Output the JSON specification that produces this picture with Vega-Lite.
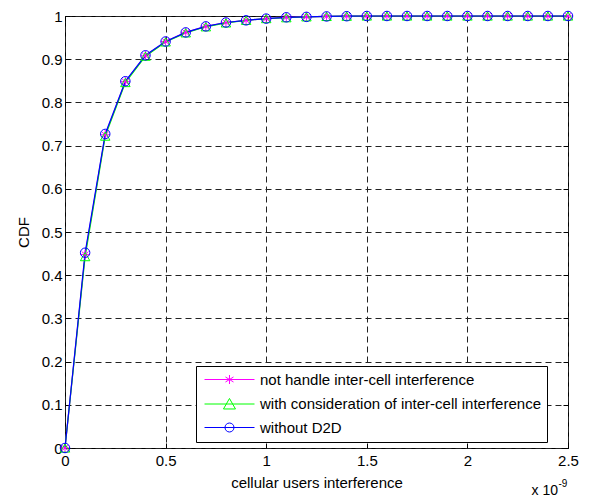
{
  "$schema": "https://vega.github.io/schema/vega-lite/v6.json",
  "width": 503,
  "height": 432,
  "autosize": {"type": "none"},
  "padding": {"left": 65, "top": 16, "right": 22, "bottom": 49},
  "background": "white",
  "config": {
    "view": {"stroke": "black", "strokeWidth": 1},
    "axis": {
      "labelFont": "Liberation Sans",
      "labelFontSize": 15,
      "labelColor": "#000",
      "labelFlush": false,
      "titleFont": "Liberation Sans",
      "titleFontSize": 15,
      "titleFontWeight": "normal",
      "titleColor": "#000",
      "domainColor": "#000",
      "tickColor": "#000",
      "gridColor": "#222",
      "gridDash": [6, 4],
      "gridOpacity": 1
    }
  },
  "data": {
    "values": [
      {"x": 0, "cdf": 0, "series": "not handle inter-cell interference"},
      {"x": 0.1, "cdf": 0.448, "series": "not handle inter-cell interference"},
      {"x": 0.2, "cdf": 0.725, "series": "not handle inter-cell interference"},
      {"x": 0.3, "cdf": 0.848, "series": "not handle inter-cell interference"},
      {"x": 0.4, "cdf": 0.908, "series": "not handle inter-cell interference"},
      {"x": 0.5, "cdf": 0.941, "series": "not handle inter-cell interference"},
      {"x": 0.6, "cdf": 0.962, "series": "not handle inter-cell interference"},
      {"x": 0.7, "cdf": 0.976, "series": "not handle inter-cell interference"},
      {"x": 0.8, "cdf": 0.985, "series": "not handle inter-cell interference"},
      {"x": 0.9, "cdf": 0.99, "series": "not handle inter-cell interference"},
      {"x": 1.0, "cdf": 0.994, "series": "not handle inter-cell interference"},
      {"x": 1.1, "cdf": 0.997, "series": "not handle inter-cell interference"},
      {"x": 1.2, "cdf": 0.998, "series": "not handle inter-cell interference"},
      {"x": 1.3, "cdf": 0.999, "series": "not handle inter-cell interference"},
      {"x": 1.4, "cdf": 0.9995, "series": "not handle inter-cell interference"},
      {"x": 1.5, "cdf": 1, "series": "not handle inter-cell interference"},
      {"x": 1.6, "cdf": 1, "series": "not handle inter-cell interference"},
      {"x": 1.7, "cdf": 1, "series": "not handle inter-cell interference"},
      {"x": 1.8, "cdf": 1, "series": "not handle inter-cell interference"},
      {"x": 1.9, "cdf": 1, "series": "not handle inter-cell interference"},
      {"x": 2.0, "cdf": 1, "series": "not handle inter-cell interference"},
      {"x": 2.1, "cdf": 1, "series": "not handle inter-cell interference"},
      {"x": 2.2, "cdf": 1, "series": "not handle inter-cell interference"},
      {"x": 2.3, "cdf": 1, "series": "not handle inter-cell interference"},
      {"x": 2.4, "cdf": 1, "series": "not handle inter-cell interference"},
      {"x": 2.5, "cdf": 1, "series": "not handle inter-cell interference"},
      {"x": 0, "cdf": 0, "series": "with consideration of inter-cell interference"},
      {"x": 0.1, "cdf": 0.443, "series": "with consideration of inter-cell interference"},
      {"x": 0.2, "cdf": 0.722, "series": "with consideration of inter-cell interference"},
      {"x": 0.3, "cdf": 0.846, "series": "with consideration of inter-cell interference"},
      {"x": 0.4, "cdf": 0.907, "series": "with consideration of inter-cell interference"},
      {"x": 0.5, "cdf": 0.94, "series": "with consideration of inter-cell interference"},
      {"x": 0.6, "cdf": 0.961, "series": "with consideration of inter-cell interference"},
      {"x": 0.7, "cdf": 0.975, "series": "with consideration of inter-cell interference"},
      {"x": 0.8, "cdf": 0.984, "series": "with consideration of inter-cell interference"},
      {"x": 0.9, "cdf": 0.99, "series": "with consideration of inter-cell interference"},
      {"x": 1.0, "cdf": 0.994, "series": "with consideration of inter-cell interference"},
      {"x": 1.1, "cdf": 0.996, "series": "with consideration of inter-cell interference"},
      {"x": 1.2, "cdf": 0.998, "series": "with consideration of inter-cell interference"},
      {"x": 1.3, "cdf": 0.999, "series": "with consideration of inter-cell interference"},
      {"x": 1.4, "cdf": 0.9995, "series": "with consideration of inter-cell interference"},
      {"x": 1.5, "cdf": 1, "series": "with consideration of inter-cell interference"},
      {"x": 1.6, "cdf": 1, "series": "with consideration of inter-cell interference"},
      {"x": 1.7, "cdf": 1, "series": "with consideration of inter-cell interference"},
      {"x": 1.8, "cdf": 1, "series": "with consideration of inter-cell interference"},
      {"x": 1.9, "cdf": 1, "series": "with consideration of inter-cell interference"},
      {"x": 2.0, "cdf": 1, "series": "with consideration of inter-cell interference"},
      {"x": 2.1, "cdf": 1, "series": "with consideration of inter-cell interference"},
      {"x": 2.2, "cdf": 1, "series": "with consideration of inter-cell interference"},
      {"x": 2.3, "cdf": 1, "series": "with consideration of inter-cell interference"},
      {"x": 2.4, "cdf": 1, "series": "with consideration of inter-cell interference"},
      {"x": 2.5, "cdf": 1, "series": "with consideration of inter-cell interference"},
      {"x": 0, "cdf": 0, "series": "without D2D"},
      {"x": 0.1, "cdf": 0.452, "series": "without D2D"},
      {"x": 0.2, "cdf": 0.727, "series": "without D2D"},
      {"x": 0.3, "cdf": 0.849, "series": "without D2D"},
      {"x": 0.4, "cdf": 0.909, "series": "without D2D"},
      {"x": 0.5, "cdf": 0.941, "series": "without D2D"},
      {"x": 0.6, "cdf": 0.962, "series": "without D2D"},
      {"x": 0.7, "cdf": 0.976, "series": "without D2D"},
      {"x": 0.8, "cdf": 0.985, "series": "without D2D"},
      {"x": 0.9, "cdf": 0.99, "series": "without D2D"},
      {"x": 1.0, "cdf": 0.994, "series": "without D2D"},
      {"x": 1.1, "cdf": 0.997, "series": "without D2D"},
      {"x": 1.2, "cdf": 0.998, "series": "without D2D"},
      {"x": 1.3, "cdf": 0.999, "series": "without D2D"},
      {"x": 1.4, "cdf": 0.9995, "series": "without D2D"},
      {"x": 1.5, "cdf": 1, "series": "without D2D"},
      {"x": 1.6, "cdf": 1, "series": "without D2D"},
      {"x": 1.7, "cdf": 1, "series": "without D2D"},
      {"x": 1.8, "cdf": 1, "series": "without D2D"},
      {"x": 1.9, "cdf": 1, "series": "without D2D"},
      {"x": 2.0, "cdf": 1, "series": "without D2D"},
      {"x": 2.1, "cdf": 1, "series": "without D2D"},
      {"x": 2.2, "cdf": 1, "series": "without D2D"},
      {"x": 2.3, "cdf": 1, "series": "without D2D"},
      {"x": 2.4, "cdf": 1, "series": "without D2D"},
      {"x": 2.5, "cdf": 1, "series": "without D2D"}
    ]
  },
  "layer": [
    {
      "mark": {"type": "line", "strokeWidth": 1.2},
      "encoding": {
        "x": {"field": "x", "type": "quantitative",
              "scale": {"domain": [0, 2.5], "nice": false, "zero": false},
              "axis": {"orient": "bottom", "values": [0, 0.5, 1, 1.5, 2, 2.5], "format": ".1~f",
                       "grid": true, "tickSize": -5, "labelPadding": 10, "title": "cellular users interference", "titlePadding": 7, "domain": false}},
        "y": {"field": "cdf", "type": "quantitative",
              "scale": {"domain": [0, 1], "nice": false, "zero": false},
              "axis": {"orient": "left", "values": [0, 0.1, 0.2, 0.3, 0.4, 0.5, 0.6, 0.7, 0.8, 0.9, 1], "format": ".1~f",
                       "grid": true, "tickSize": -5, "labelPadding": 8, "title": "CDF", "titlePadding": 10, "domain": false}},
        "color": {"field": "series", "type": "nominal",
                  "scale": {"domain": ["not handle inter-cell interference", "with consideration of inter-cell interference", "without D2D"],
                            "range": ["#ff00ff", "#00ff00", "#0000ff"]},
                  "legend": null},
        "order": {"field": "x", "type": "quantitative"}
      }
    },
    {
      "mark": {"type": "point", "filled": false, "strokeWidth": 1, "size": 90, "opacity": 1},
      "encoding": {
        "x": {"field": "x", "type": "quantitative", "axis": null},
        "y": {"field": "cdf", "type": "quantitative", "axis": null},
        "color": {"field": "series", "type": "nominal",
                  "scale": {"domain": ["not handle inter-cell interference", "with consideration of inter-cell interference", "without D2D"],
                            "range": ["#ff00ff", "#00ff00", "#0000ff"]},
                  "legend": null},
        "shape": {"field": "series", "type": "nominal",
                  "scale": {"domain": ["not handle inter-cell interference", "with consideration of inter-cell interference", "without D2D"],
                            "range": ["M0,-1V1M-1,0H1M-0.7,-0.6L0.7,0.6M-0.7,0.6L0.7,-0.6", "triangle-up", "circle"]},
                  "legend": null}
      }
    },
    {
      "mark": {"type": "point", "filled": false, "strokeWidth": 1, "size": 144, "opacity": 0},
      "encoding": {
        "x": {"field": "x", "type": "quantitative",
              "axis": {"orient": "top", "values": [0, 0.5, 1, 1.5, 2, 2.5], "labels": false, "grid": false, "tickSize": -5, "title": null, "domain": false}},
        "y": {"field": "cdf", "type": "quantitative",
              "axis": {"orient": "right", "values": [0, 0.1, 0.2, 0.3, 0.4, 0.5, 0.6, 0.7, 0.8, 0.9, 1], "labels": false, "grid": false, "tickSize": -5, "title": null, "domain": false}},
        "color": {"field": "series", "type": "nominal",
                  "scale": {"domain": ["not handle inter-cell interference", "with consideration of inter-cell interference", "without D2D"],
                            "range": ["#ff00ff", "#00ff00", "#0000ff"]},
                  "legend": {"orient": "none", "legendX": 131, "legendY": 350, "title": null,
                             "fillColor": "white", "strokeColor": "black", "padding": 6,
                             "labelFont": "Liberation Sans", "labelFontSize": 15, "labelColor": "#000", "labelLimit": 400,
                             "symbolSize": 144, "symbolStrokeWidth": 1, "labelOffset": 43, "rowPadding": 7.5, "symbolOpacity": 1,
                             "encode": {"symbols": {"update": {"opacity": {"value": 1}}}}}},
        "shape": {"field": "series", "type": "nominal",
                  "scale": {"domain": ["not handle inter-cell interference", "with consideration of inter-cell interference", "without D2D"],
                            "range": ["M-0.83,0H7.5M3.33,-0.75V0.75M2.66,-0.42L4.0,0.42M2.66,0.42L4.0,-0.42",
                                      "M-0.83,0H7.5M3.33,-0.92L4.33,0.83L2.33,0.83Z",
                                      "M-0.83,0H7.5M2.58,0A0.75,0.75 0 1,0 4.08,0A0.75,0.75 0 1,0 2.58,0"]},
                  "legend": {"orient": "none", "legendX": 131, "legendY": 350, "title": null,
                             "fillColor": "white", "strokeColor": "black", "padding": 6,
                             "labelFont": "Liberation Sans", "labelFontSize": 15, "labelColor": "#000", "labelLimit": 400,
                             "symbolSize": 144, "symbolStrokeWidth": 1, "labelOffset": 43, "rowPadding": 7.5, "symbolOpacity": 1,
                             "encode": {"symbols": {"update": {"opacity": {"value": 1}}}}}}
      }
    },
    {
      "data": {"values": [{"x": 2.5, "cdf": 0, "t": "x 10"}]},
      "mark": {"type": "text", "align": "right", "baseline": "alphabetic", "dx": -10, "dy": 47,
               "font": "Liberation Sans", "fontSize": 14, "color": "#000"},
      "encoding": {
        "x": {"field": "x", "type": "quantitative", "axis": null},
        "y": {"field": "cdf", "type": "quantitative", "axis": null},
        "text": {"field": "t"}
      }
    },
    {
      "data": {"values": [{"x": 2.5, "cdf": 0, "t": "-9"}]},
      "mark": {"type": "text", "align": "left", "baseline": "alphabetic", "dx": -9.5, "dy": 39,
               "font": "Liberation Sans", "fontSize": 10, "color": "#000"},
      "encoding": {
        "x": {"field": "x", "type": "quantitative", "axis": null},
        "y": {"field": "cdf", "type": "quantitative", "axis": null},
        "text": {"field": "t"}
      }
    }
  ],
  "resolve": {
    "scale": {"color": "independent", "shape": "independent"},
    "axis": {"x": "independent", "y": "independent"},
    "legend": {"color": "independent", "shape": "independent"}
  }
}
